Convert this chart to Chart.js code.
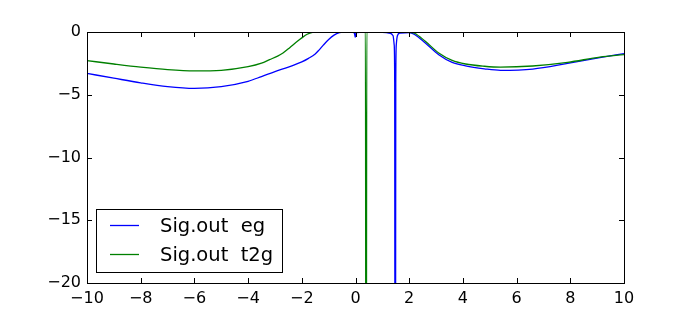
<!DOCTYPE html>
<html>
<head>
<meta charset="UTF-8">
<script src="https://cdn.jsdelivr.net/npm/chart.js"></script>
<style>
  html, body { margin: 0; padding: 0; background: #fff; }
  #wrap { width: 693px; height: 315px; }
</style>
</head>
<body>
<div id="wrap"><canvas id="sig" width="693" height="315"></canvas></div>
<script>
// data
const egX = [-10,-9,-8,-7,-6,-5,-4,-3.5,-3,-2.5,-2,-1.75,-1.5,-1.35,-1.2,-1,-0.8,-0.6,-0.45,-0.1,-0.04,-0.01,0.02,0.3,1,1.3,1.4,1.44,1.46,1.47,1.49,1.5,1.52,1.56,1.65,2,2.2,2.6,3.1,3.6,4.1,4.8,5.4,6.6,7.9,9.1,10];
const egY = [-3.3,-3.68,-4.05,-4.35,-4.49,-4.35,-3.93,-3.55,-3.15,-2.8,-2.38,-2.1,-1.75,-1.42,-1.05,-0.6,-0.25,-0.05,-0.01,-0.03,-0.1,-0.42,-0.05,-0.01,-0.02,-0.1,-0.3,-1,-4,-30,-30,-4,-1,-0.3,-0.08,-0.05,-0.2,-0.88,-1.81,-2.42,-2.7,-2.93,-3.05,-2.95,-2.5,-2.04,-1.72];
const t2gX = [-10,-9,-8,-7,-6,-5,-4,-3.5,-3.2,-2.9,-2.7,-2.45,-2.2,-2,-1.8,-1.6,-1.4,0.37,0.39,0.4,0.42,1.5,2,2.2,2.6,3.1,3.6,4.1,4.8,5.4,6.6,7.9,9.1,10];
const t2gY = [-2.28,-2.55,-2.8,-3.0,-3.1,-3.05,-2.76,-2.48,-2.2,-1.92,-1.67,-1.25,-0.8,-0.47,-0.18,-0.03,-0.005,-0.005,-40,-40,-0.005,-0.005,-0.02,-0.1,-0.74,-1.67,-2.26,-2.55,-2.73,-2.8,-2.71,-2.42,-2.0,-1.8];
const seriesNames = ['Sig.out  eg', 'Sig.out  t2g'];
const seriesColors = ['#0000ff', '#008000'];
const xTicks = [-10,-8,-6,-4,-2,0,2,4,6,8,10];
const yTicks = [0,-5,-10,-15,-20];

const pts = (xs, ys) => xs.map((x, i) => ({ x: x, y: ys[i] }));
const minus = v => String(v).replace('-', '\u2212');
const FONT = "'DejaVu Sans', sans-serif";

// box, inward ticks on all sides, legend inside the axes
const frame = {
  id: 'frame',
  afterDraw(chart) {
    const { ctx, chartArea: a, scales: { x, y } } = chart;
    ctx.save();
    ctx.strokeStyle = '#000';
    ctx.lineWidth = 1;
    ctx.beginPath();
    xTicks.forEach(v => {
      const px = Math.round(x.getPixelForValue(v)) + 0.5;
      ctx.moveTo(px, a.bottom); ctx.lineTo(px, a.bottom - 5);
      ctx.moveTo(px, a.top); ctx.lineTo(px, a.top + 5);
    });
    yTicks.forEach(v => {
      const py = Math.round(y.getPixelForValue(v)) + 0.5;
      ctx.moveTo(a.left, py); ctx.lineTo(a.left + 5, py);
      ctx.moveTo(a.right, py); ctx.lineTo(a.right - 5, py);
    });
    ctx.stroke();
    ctx.strokeRect(Math.round(a.left) + 0.5, Math.round(a.top) + 0.5,
      Math.round(a.right - a.left), Math.round(a.bottom - a.top));

    // legend
    ctx.fillStyle = '#fff';
    ctx.fillRect(96.5, 209.5, 186, 63);
    ctx.strokeRect(96.5, 209.5, 186, 63);
    ctx.font = '19.5px ' + FONT;
    ctx.textBaseline = 'middle';
    seriesNames.forEach((name, i) => {
      const ly = 225.5 + i * 29;
      ctx.strokeStyle = seriesColors[i];
      ctx.lineWidth = 1.3;
      ctx.beginPath();
      ctx.moveTo(110, ly); ctx.lineTo(139, ly);
      ctx.stroke();
      ctx.fillStyle = '#000';
      ctx.fillText(name, 160, ly + 1);
    });
    ctx.restore();
  }
};

new Chart(document.getElementById('sig'), {
  type: 'scatter',
  data: {
    datasets: [
      { label: seriesNames[0], data: pts(egX, egY), borderColor: seriesColors[0], order: 1 },
      { label: seriesNames[1], data: pts(t2gX, t2gY), borderColor: seriesColors[1], order: 0 }
    ].map(d => Object.assign(d, {
      showLine: true, pointRadius: 0, borderWidth: 1.3,
      cubicInterpolationMode: 'monotone', fill: false
    }))
  },
  options: {
    responsive: false,
    animation: false,
    layout: { padding: { top: 32, right: 69, left: 0, bottom: 0 } },
    plugins: { legend: { display: false }, tooltip: { enabled: false } },
    scales: {
      x: {
        type: 'linear', min: -10, max: 10,
        afterBuildTicks: s => { s.ticks = xTicks.map(v => ({ value: v })); },
        afterFit: s => { s.height = 32; },
        grid: { display: false, drawTicks: false },
        border: { display: false },
        ticks: { padding: 6, color: '#000', font: { family: FONT, size: 16 }, maxRotation: 0, callback: v => minus(v) }
      },
      y: {
        min: -20, max: 0,
        afterBuildTicks: s => { s.ticks = yTicks.map(v => ({ value: v })); },
        afterFit: s => { s.width = 87; },
        grid: { display: false, drawTicks: false },
        border: { display: false },
        ticks: { padding: 6, color: '#000', font: { family: FONT, size: 16 }, callback: v => minus(v) }
      }
    }
  },
  plugins: [frame]
});
</script>
</body>
</html>
